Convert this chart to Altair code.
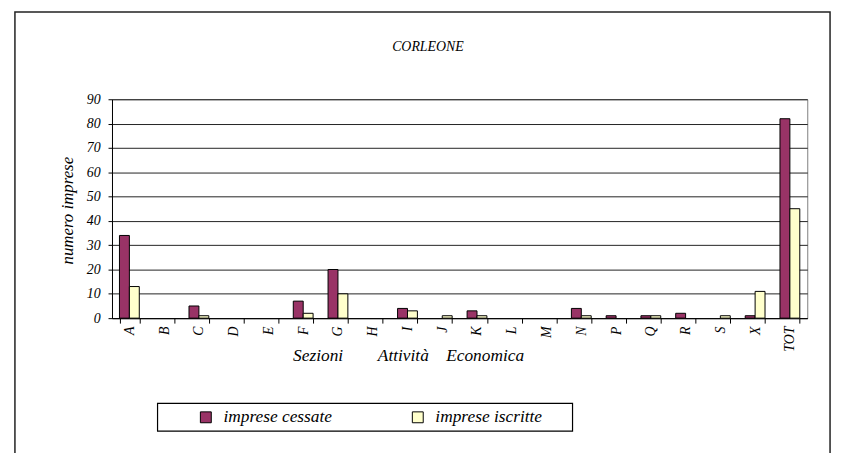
import altair as alt
import pandas as pd

sezioni = ["A", "B", "C", "D", "E", "F", "G", "H", "I", "J", "K", "L", "M",
           "N", "P", "Q", "R", "S", "X", "TOT"]
cessate = [34, 0, 5, 0, 0, 7, 20, 0, 4, 0, 3, 0, 0, 4, 1, 1, 2, 0, 1, 82]
iscritte = [13, 0, 1, 0, 0, 2, 10, 0, 3, 1, 1, 0, 0, 1, 0, 1, 0, 1, 11, 45]
serie = ["imprese cessate", "imprese iscritte"]
colori = ["#993366", "#FFFFCC"]
y_ticks = [0, 10, 20, 30, 40, 50, 60, 70, 80, 90]

rows = []
for i, s in enumerate(sezioni):
    rows.append({"sezione": s, "serie": serie[0], "valore": cessate[i]})
    rows.append({"sezione": s, "serie": serie[1], "valore": iscritte[i]})
df = pd.DataFrame(rows)

FONT = "Liberation Serif"
NB = "\u00a0"
x_title = "Sezioni" + NB * 8 + "Attività" + NB * 4 + "Economica"

bars = alt.Chart(df).transform_filter("datum.valore > 0").mark_bar(
    stroke="black", strokeWidth=1).encode(
    x=alt.X("sezione:N", sort=sezioni, scale=alt.Scale(
        domain=sezioni, paddingInner=0.43, paddingOuter=0.215),
            axis=alt.Axis(title=x_title, labelAngle=270, labelFont=FONT,
                          labelFontStyle="italic", labelFontSize=14,
                          labelColor="black", labelPadding=3,
                          tickBand="extent", tickSize=5, tickColor="black",
                          domainColor="black", grid=False,
                          titleFont=FONT, titleFontStyle="italic",
                          titleFontWeight="normal", titleFontSize=17.5,
                          titleColor="black", titleX=299, titleY=38,
                          titleAlign="center", titleBaseline="middle")),
    xOffset=alt.XOffset("serie:N", sort=serie, scale=alt.Scale(domain=serie)),
    y=alt.Y("valore:Q", scale=alt.Scale(domain=[0, 90], nice=False),
            axis=alt.Axis(values=y_ticks, title="numero imprese",
                          labelFont=FONT, labelFontStyle="italic",
                          labelFontSize=14, labelColor="black",
                          labelPadding=8, tickSize=4, tickColor="black",
                          domainColor="black", gridColor="#222222",
                          titleFont=FONT, titleFontStyle="italic",
                          titleFontWeight="normal", titleFontSize=17,
                          titleColor="black", titleAngle=270,
                          titleX=-45, titleY=112, titleAlign="center",
                          titleBaseline="middle")),
    color=alt.Color("serie:N", sort=serie,
                    scale=alt.Scale(domain=serie, range=colori),
                    legend=alt.Legend(title=None, orient="none",
                                      legendX=86, legendY=312,
                                      direction="horizontal",
                                      columnPadding=77,
                                      symbolType="square", symbolSize=121,
                                      symbolStrokeColor="black",
                                      symbolStrokeWidth=1,
                                      symbolOpacity=1,
                                      labelFont=FONT, labelFontStyle="italic",
                                      labelFontSize=17.5, labelColor="black",
                                      labelOffset=9, padding=0)),
)

one = pd.DataFrame({"k": [0]})

frame = alt.Chart(one).mark_rect(fill=None, stroke="#222222", strokeWidth=1.5).encode(
    x=alt.value(-98), x2=alt.value(725), y=alt.value(-88), y2=alt.value(400))

legend_box = alt.Chart(one).mark_rect(fill=None, stroke="black", strokeWidth=1.2).encode(
    x=alt.value(46), x2=alt.value(465), y=alt.value(307), y2=alt.value(335))

title = alt.Chart(one).mark_text(text="CORLEONE", font=FONT, fontStyle="italic",
                                 fontSize=14, color="black", align="center",
                                 baseline="middle").encode(
    x=alt.value(319), y=alt.value(-53))

chart = alt.layer(frame, legend_box, title, bars).properties(
    width=702, height=221,
    autosize=alt.AutoSizeParams(type="none"),
    padding={"left": 105, "top": 90, "right": 28, "bottom": 134},
    background="white",
).configure_view(stroke="#808080", strokeWidth=1)

chart.save("out.html", embed_options={"renderer": "svg", "actions": False})
